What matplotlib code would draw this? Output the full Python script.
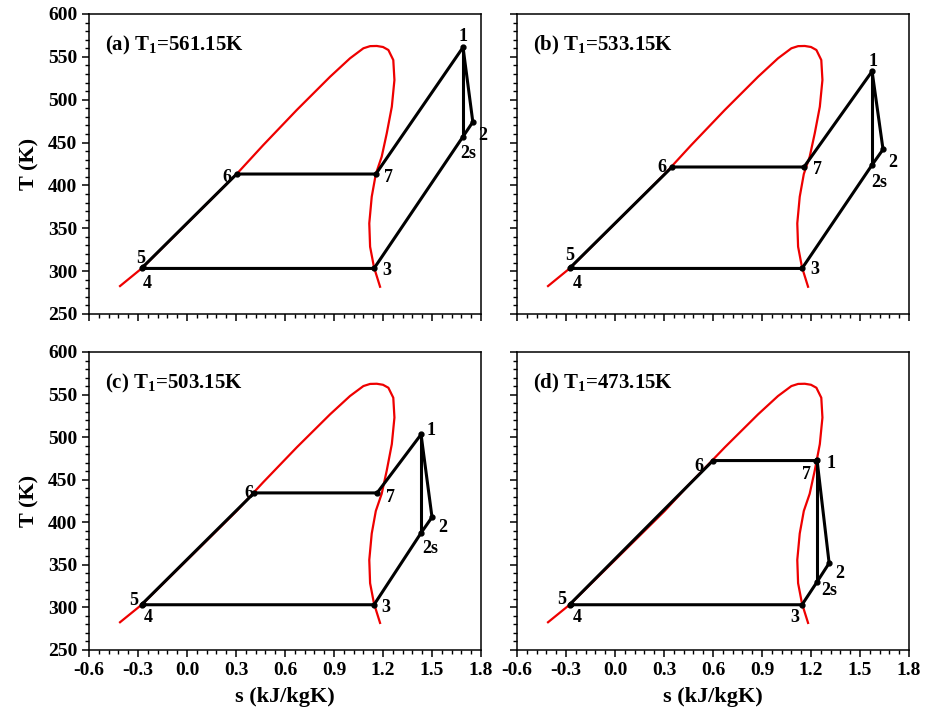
import matplotlib
matplotlib.use("Agg")
import matplotlib.pyplot as plt
from matplotlib.ticker import MultipleLocator, FormatStrFormatter

plt.rcParams['font.family'] = ['Liberation Serif', 'DejaVu Serif']
plt.rcParams['font.weight'] = 'bold'
plt.rcParams['mathtext.fontset'] = 'custom'
plt.rcParams['mathtext.rm'] = 'Liberation Serif:bold'
plt.rcParams['mathtext.it'] = 'Liberation Serif:bold'
plt.rcParams['mathtext.bf'] = 'Liberation Serif:bold'
plt.rcParams['mathtext.default'] = 'bf'
plt.rcParams['axes.unicode_minus'] = False

# Saturation dome
dome_s = [-0.410, -0.275, 0.010, 0.304, 0.467, 0.672, 0.876, 0.998, 1.080, 1.121,
          1.162, 1.200, 1.233, 1.263, 1.270, 1.254, 1.223, 1.192, 1.156, 1.131,
          1.116, 1.121, 1.145, 1.182]
dome_T = [282.6, 303.6, 357.5, 413.3, 447.1, 488.0, 526.8, 548.3, 560.0, 562.5,
          562.7, 561.5, 558.0, 546.3, 523.0, 491.8, 460.8, 433.5, 413.3, 386.8,
          355.8, 328.5, 304.4, 281.8]

point_names = ['1', '2', '2s', '3', '4', '5', '6', '7']
titles = ['(a) $T_1$=561.15K', '(b) $T_1$=533.15K', '(c) $T_1$=503.15K', '(d) $T_1$=473.15K']

# cycle states per panel, order: 1, 2, 2s, 3, 4, 5, 6, 7
s_a = [1.690, 1.750, 1.690, 1.145, -0.275, -0.272, 0.304, 1.156]
T_a = [561.15, 474.0, 457.0, 303.15, 303.15, 304.5, 413.3, 413.3]
s_b = [1.574, 1.641, 1.574, 1.145, -0.275, -0.272, 0.349, 1.157]
T_b = [533.15, 442.0, 424.0, 303.15, 303.15, 304.5, 421.5, 421.5]
s_c = [1.433, 1.500, 1.433, 1.145, -0.275, -0.272, 0.411, 1.164]
T_c = [503.15, 406.0, 387.5, 303.15, 303.15, 304.5, 434.5, 434.5]
s_d = [1.237, 1.311, 1.237, 1.145, -0.275, -0.272, 0.600, 1.232]
T_d = [473.15, 352.0, 330.0, 303.15, 303.15, 304.5, 472.5, 472.5]

# label offsets in pixels (dx, dy) per panel per point
offs = [
    {'1': (0, 11), '2': (10, -13), '2s': (5, -17), '3': (13, -2), '4': (5, -15),
     '5': (-2, 9), '6': (-10, -3), '7': (13, -3)},
    {'1': (1, 10), '2': (10, -13), '2s': (7, -18), '3': (13, -1), '4': (7, -15),
     '5': (-1, 12), '6': (-10, 0), '7': (14, -3)},
    {'1': (10, 4), '2': (11, -10), '2s': (9, -16), '3': (12, -3), '4': (6, -13),
     '5': (-9, 3), '6': (-5, -1), '7': (13, -5)},
    {'1': (14, -3), '7': (-10, -14), '2': (11, -10), '2s': (12, -9), '3': (-7, -13),
     '4': (7, -13), '5': (-9, 4), '6': (-14, -6)},
]

fig = plt.figure(figsize=(9.25, 7.12), dpi=100)
W, H = 925, 712
boxes = [(89, 14, 481, 314), (517, 14, 909, 314), (89, 352, 481, 650), (517, 352, 909, 650)]
data = [(s_a, T_a), (s_b, T_b), (s_c, T_c), (s_d, T_d)]

for k, ((x0, y0, x1, y1), (s, T)) in enumerate(zip(boxes, data)):
    ax = fig.add_axes([x0 / W, 1 - y1 / H, (x1 - x0) / W, (y1 - y0) / H])
    ax.plot(dome_s, dome_T, color='#ee0000', lw=1.6, zorder=2)
    P = dict(zip(point_names, zip(s, T)))
    order = ['1', '2', '2s', '3', '4', '5', '6', '7', '1']
    ax.plot([P[n][0] for n in order], [P[n][1] for n in order], color='black', lw=2.2,
            zorder=3, solid_joinstyle='miter')
    ax.plot([P['1'][0], P['2s'][0]], [P['1'][1], P['2s'][1]], color='black', lw=2.2, zorder=3)
    ax.plot(s, T, 'o', color='black', ms=3.5, zorder=4)
    for n in point_names:
        dx, dy = offs[k][n]
        ax.annotate(n, P[n], xytext=(dx, dy), textcoords='offset pixels',
                    ha='center', va='center', fontsize=13, fontweight='bold')
    ax.set_xlim(-0.6, 1.8)
    ax.set_ylim(250, 600)
    ax.xaxis.set_major_locator(MultipleLocator(0.3))
    ax.xaxis.set_minor_locator(MultipleLocator(0.06))
    ax.yaxis.set_major_locator(MultipleLocator(50))
    ax.yaxis.set_minor_locator(MultipleLocator(10))
    ax.xaxis.set_major_formatter(FormatStrFormatter('%.1f'))
    ax.tick_params(which='major', direction='out', length=5, width=1.1, labelsize=14,
                   top=False, right=False)
    ax.tick_params(which='minor', direction='out', length=2.8, width=1.0, top=False, right=False)
    for sp in ax.spines.values():
        sp.set_linewidth(1.1)
    for lab in ax.get_xticklabels() + ax.get_yticklabels():
        lab.set_fontweight('bold')
    if k in (0, 1):
        ax.set_xticklabels([])
    else:
        ax.set_xlabel('s (kJ/kgK)', fontsize=16, fontweight='bold', labelpad=6)
    if k in (1, 3):
        ax.set_yticklabels([])
    else:
        ax.set_ylabel('T (K)', fontsize=16, fontweight='bold', labelpad=6)
    ax.text(0.040, 0.895, titles[k], transform=ax.transAxes, fontsize=15,
            fontweight='bold', ha='left', va='center')

fig.savefig('out.png', dpi=100)
